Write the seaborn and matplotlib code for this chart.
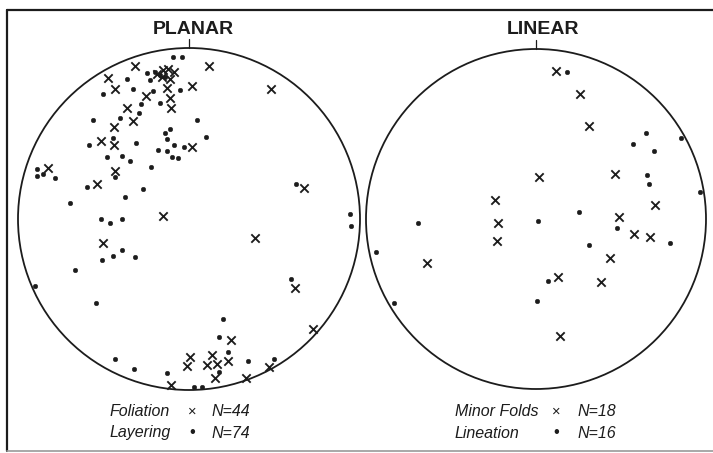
import matplotlib
matplotlib.use("Agg")
import matplotlib.pyplot as plt
import seaborn as sns
import pandas as pd
from matplotlib.patches import Circle
from matplotlib.lines import Line2D

sns.set_theme(style="white")
plt.rcParams['font.family'] = ['Liberation Sans', 'DejaVu Sans']

# Poles plotted on a unit-radius net: x = east, y = north
foliation_x = [-0.314, -0.472, -0.433, 0.016, -0.130, -0.111, -0.107, -0.251, -0.364, -0.326,
               -0.437, -0.515, -0.439, 0.016, -0.823, -0.433, -0.540, 0.119, 0.478, 0.674,
               -0.154, -0.501, -0.107, 0.384, 0.620, 0.727, 0.244, 0.006, 0.133, -0.010,
               0.107, 0.165, 0.230, 0.152, 0.333, 0.468,
               -0.19, -0.15, -0.12, -0.09, -0.16, -0.11]
foliation_y = [0.895, 0.823, 0.760, 0.778, 0.764, 0.706, 0.647, 0.721, 0.647, 0.571,
               0.536, 0.456, 0.433, 0.423, 0.300, 0.281, 0.205, 0.895, 0.758, 0.180,
               0.018, -0.139, -0.969, -0.113, -0.402, -0.645, -0.708, -0.805, -0.795, -0.860,
               -0.854, -0.848, -0.829, -0.932, -0.932, -0.864,
               0.85, 0.87, 0.88, 0.86, 0.83, 0.82]

layering_x = [-0.092, -0.043, -0.361, -0.247, -0.501, -0.329, -0.209, -0.053, -0.170, -0.282,
              -0.291, -0.404, -0.563, 0.045, -0.140, -0.111, -0.127, -0.088, -0.027, -0.446,
              -0.583, -0.310, -0.180, -0.130, -0.101, -0.066, -0.481, -0.394, -0.345, -0.222,
              -0.891, -0.891, -0.856, -0.784, -0.433, -0.598, -0.271, -0.373, 0.099, 0.624,
              -0.696, -0.515, -0.464, -0.392, -0.392, -0.444, -0.507, -0.314, -0.667, -0.902,
              -0.544, -0.435, -0.322, -0.130, 0.029, 0.074, 0.942, 0.946, 0.595, 0.197,
              0.177, 0.230, 0.343, 0.177, 0.497,
              -0.20, -0.17, -0.14, -0.23]
layering_y = [0.946, 0.949, 0.819, 0.852, 0.731, 0.760, 0.749, 0.754, 0.677, 0.673,
              0.622, 0.589, 0.579, 0.579, 0.505, 0.525, 0.466, 0.433, 0.423, 0.472,
              0.433, 0.443, 0.404, 0.399, 0.364, 0.358, 0.364, 0.368, 0.339, 0.302,
              0.291, 0.251, 0.263, 0.242, 0.247, 0.185, 0.177, 0.130, 0.478, 0.203,
              0.095, 0.002, -0.023, 0.000, -0.181, -0.218, -0.240, -0.224, -0.298, -0.390,
              -0.491, -0.819, -0.877, -0.902, -0.980, -0.980, 0.029, -0.041, -0.351, -0.587,
              -0.692, -0.776, -0.829, -0.893, -0.819,
              0.86, 0.84, 0.83, 0.81]

minor_folds_x = [0.118, 0.259, 0.314, 0.019, 0.465, 0.700, -0.241, -0.222, -0.231, 0.490,
                 0.578, 0.672, 0.435, -0.643, 0.129, 0.381, 0.143]
minor_folds_y = [0.872, 0.735, 0.547, 0.245, 0.265, 0.082, 0.112, -0.025, -0.128, 0.014,
                 -0.090, -0.104, -0.231, -0.257, -0.343, -0.369, -0.688]

lineation_x = [0.184, 0.647, 0.851, 0.572, 0.694, 0.651, 0.663, 0.965, -0.696, 0.012,
               0.251, 0.478, 0.788, 0.310, -0.943, 0.072, -0.835, 0.008]
lineation_y = [0.865, 0.504, 0.478, 0.439, 0.402, 0.259, 0.206, 0.157, -0.022, -0.010,
               0.039, -0.055, -0.143, -0.151, -0.194, -0.363, -0.492, -0.482]

titles = ["PLANAR", "LINEAR"]
legend_rows = [
    [("Foliation", "×", "N=44"), ("Layering", "•", "N=74")],
    [("Minor Folds", "×", "N=18"), ("Lineation", "•", "N=16")],
]

INK = "#1c1c1c"
W, H = 713, 453
fig = plt.figure(figsize=(W / 100, H / 100), dpi=100)
fig.patch.set_facecolor("white")


def net_axes(cx, cy, r, pad=1.12):
    half = r * pad
    ax = fig.add_axes([(cx - half) / W, (H - cy - half) / H, 2 * half / W, 2 * half / H])
    ax.set_xlim(-pad, pad)
    ax.set_ylim(-pad, pad)
    ax.set_axis_off()
    ax.add_patch(Circle((0, 0), 1.0, fill=False, lw=1.3, ec=INK))
    ax.plot([0, 0], [1.0, 1.055], color=INK, lw=0.9)
    return ax


def plot_set(ax, xs, ys, kind):
    df = pd.DataFrame({"x": xs, "y": ys})
    if kind == "cross":
        sns.scatterplot(data=df, x="x", y="y", ax=ax, marker="x", s=36,
                        color=INK, linewidth=1.35, legend=False)
    else:
        sns.scatterplot(data=df, x="x", y="y", ax=ax, marker="o", s=11,
                        color=INK, edgecolor=INK, linewidth=0.3, legend=False)
    ax.set_xlim(-1.12, 1.12)
    ax.set_ylim(-1.12, 1.12)
    ax.set_axis_off()


ax1 = net_axes(189, 219, 171)
plot_set(ax1, foliation_x, foliation_y, "cross")
plot_set(ax1, layering_x, layering_y, "dot")

ax2 = net_axes(536, 219, 170)
plot_set(ax2, minor_folds_x, minor_folds_y, "cross")
plot_set(ax2, lineation_x, lineation_y, "dot")

# Titles
for title, cx in zip(titles, [193, 543]):
    fig.text(cx / W, 1 - 30 / H, title, ha="center", va="center",
             fontsize=14, fontweight="heavy", color=INK)

# Legends under each net
for rows, (x_label, x_sym, x_n) in zip(legend_rows, [(110, 192, 212), (455, 556, 578)]):
    for (label, sym, n), y in zip(rows, [412, 433]):
        fig.text(x_label / W, 1 - y / H, label, ha="left", va="center",
                 fontsize=11.5, style="italic", color=INK)
        fig.text(x_sym / W, 1 - y / H, sym, ha="center", va="center",
                 fontsize=10.5 if sym == "×" else 12, color=INK)
        fig.text(x_n / W, 1 - y / H, n, ha="left", va="center",
                 fontsize=11.5, style="italic", color=INK)

# Outer frame: dark top and left rules, faint bottom rule
fx0, fy_top, fy_bot = 7 / W, 1 - 10 / H, 1 - 451 / H
for xs, ys, col, lw in [([fx0, 1.0], [fy_top, fy_top], INK, 1.6),
                        ([fx0, fx0], [fy_top, fy_bot], INK, 1.6),
                        ([fx0, 1.0], [fy_bot, fy_bot], "#9a9a9a", 1.2)]:
    fig.add_artist(Line2D(xs, ys, color=col, lw=lw, transform=fig.transFigure))

fig.savefig("out.png", dpi=100)
